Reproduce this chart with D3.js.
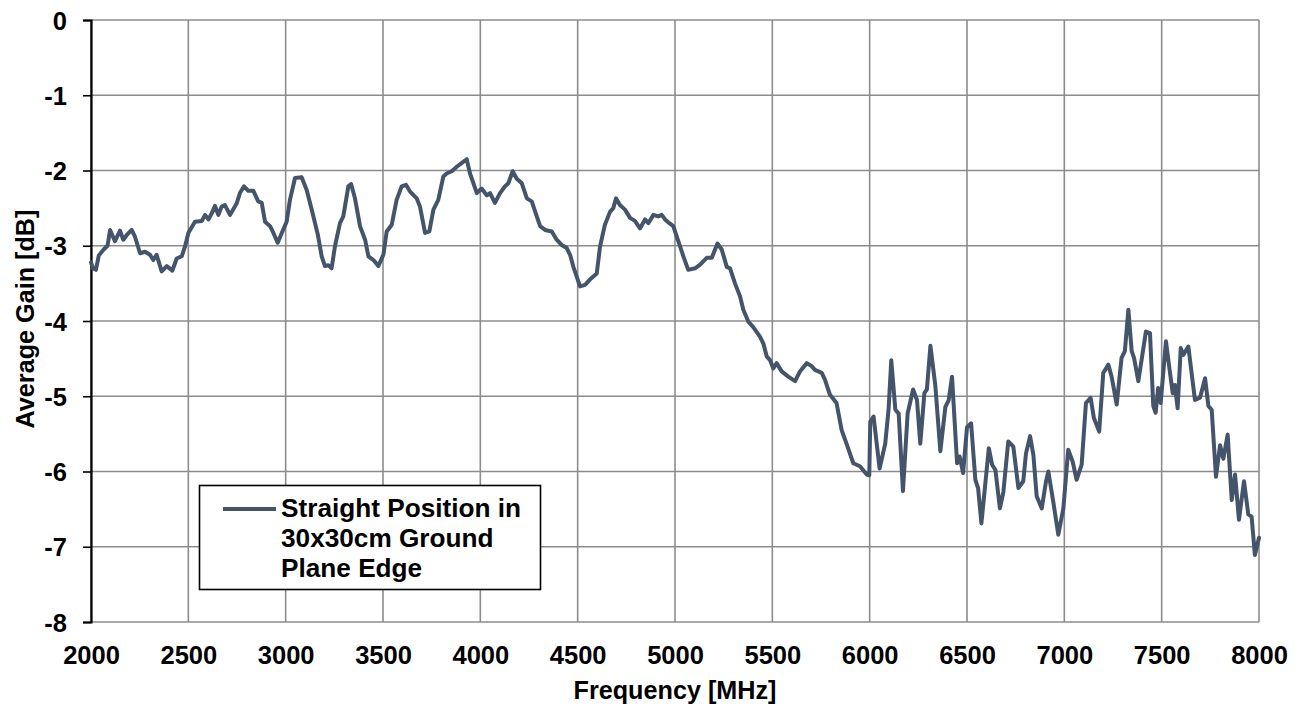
<!DOCTYPE html>
<html>
<head>
<meta charset="utf-8">
<script src="https://cdn.jsdelivr.net/npm/d3@7"></script>
<style>
  html, body { margin: 0; padding: 0; background: #fff; }
  svg { display: block; font-family: "Liberation Sans", Arial, sans-serif; font-weight: bold; }
</style>
</head>
<body>
<svg id="chart" width="1303" height="710"></svg>
<script>
const seriesName = ["Straight Position in", "30x30cm Ground", "Plane Edge"];
const xTickValues = [2000, 2500, 3000, 3500, 4000, 4500, 5000, 5500, 6000, 6500, 7000, 7500, 8000];
const yTickValues = [0, -1, -2, -3, -4, -5, -6, -7, -8];
const xTitle = "Frequency [MHz]";
const yTitle = "Average Gain [dB]";

const freq = [
 2000,2010,2025,2040,2065,2085,2098,2123,2149,2166,2183,2209,2226,2252,2277,2303,2320,2337,2363,2389,
 2418,2440,2466,2483,2500,2534,2569,2586,2603,2620,2637,2654,2671,2688,2714,2748,2765,2786,2808,2834,
 2859,2877,2894,2920,2937,2959,2980,3005,3022,3048,3082,3108,3134,3165,3185,3202,3219,3236,3253,3279,
 3296,3322,3336,3356,3382,3408,3425,3451,3476,3502,3519,3545,3570,3596,3618,3639,3673,3690,3716,3738,
 3759,3784,3810,3827,3853,3879,3905,3930,3947,3982,4007,4033,4050,4075,4101,4127,4144,4166,4187,4213,
 4239,4264,4290,4307,4333,4367,4392,4418,4444,4461,4478,4495,4512,4538,4563,4598,4615,4640,4666,4683,
 4697,4717,4743,4769,4794,4820,4846,4863,4889,4914,4932,4949,4971,4991,5017,5043,5068,5103,5129,5163,
 5189,5218,5240,5266,5283,5308,5334,5351,5377,5402,5437,5454,5471,5488,5505,5522,5548,5582,5617,5642,
 5677,5702,5719,5754,5770,5796,5830,5856,5881,5916,5950,5985,5998,6003,6020,6051,6080,6097,6111,6132,
 6149,6171,6195,6223,6243,6260,6281,6294,6312,6337,6363,6389,6406,6423,6449,6462,6480,6500,6521,6543,
 6557,6574,6612,6629,6646,6669,6687,6712,6738,6764,6789,6803,6824,6841,6858,6884,6906,6918,6943,6969,
 6995,7020,7043,7063,7089,7111,7135,7152,7179,7200,7226,7243,7269,7294,7311,7329,7346,7358,7380,7402,
 7419,7440,7457,7469,7482,7495,7522,7543,7557,7568,7582,7598,7611,7637,7671,7697,7723,7740,7757,7779,
 7800,7817,7839,7860,7877,7897,7923,7945,7962,7979,8000
];
const gain = [
 -3.22,-3.30,-3.32,-3.13,-3.05,-3.00,-2.79,-2.94,-2.80,-2.92,-2.86,-2.79,-2.88,-3.10,-3.08,-3.12,-3.19,-3.12,-3.34,-3.27,
 -3.33,-3.17,-3.14,-3.01,-2.83,-2.68,-2.67,-2.59,-2.65,-2.57,-2.47,-2.59,-2.48,-2.46,-2.59,-2.44,-2.30,-2.21,-2.27,-2.27,
 -2.41,-2.43,-2.68,-2.74,-2.83,-2.96,-2.83,-2.68,-2.39,-2.10,-2.09,-2.26,-2.52,-2.85,-3.14,-3.27,-3.26,-3.30,-3.01,-2.70,
 -2.61,-2.21,-2.18,-2.37,-2.74,-2.92,-3.14,-3.19,-3.27,-3.12,-2.81,-2.72,-2.39,-2.21,-2.19,-2.28,-2.37,-2.48,-2.83,-2.81,
 -2.52,-2.39,-2.08,-2.04,-2.01,-1.95,-1.90,-1.85,-2.04,-2.30,-2.24,-2.33,-2.30,-2.43,-2.30,-2.21,-2.17,-2.01,-2.11,-2.17,
 -2.37,-2.41,-2.61,-2.74,-2.79,-2.81,-2.92,-2.99,-3.03,-3.12,-3.28,-3.41,-3.54,-3.52,-3.45,-3.37,-3.01,-2.72,-2.55,-2.50,
 -2.37,-2.46,-2.52,-2.63,-2.67,-2.77,-2.65,-2.70,-2.59,-2.61,-2.59,-2.65,-2.70,-2.74,-2.94,-3.14,-3.32,-3.30,-3.25,-3.16,
 -3.16,-2.97,-3.05,-3.28,-3.30,-3.50,-3.67,-3.85,-4.01,-4.08,-4.21,-4.30,-4.47,-4.52,-4.63,-4.56,-4.67,-4.74,-4.80,-4.67,
 -4.56,-4.60,-4.65,-4.69,-4.78,-4.98,-5.09,-5.45,-5.63,-5.89,-5.93,-6.04,-6.05,-5.34,-5.27,-5.96,-5.63,-5.18,-4.52,-5.18,
 -5.23,-6.26,-5.23,-4.91,-5.05,-5.63,-4.96,-4.91,-4.33,-4.85,-5.73,-5.14,-5.05,-4.74,-5.89,-5.80,-6.02,-5.41,-5.36,-6.11,
 -6.22,-6.69,-5.69,-5.91,-5.98,-6.49,-6.27,-5.60,-5.67,-6.22,-6.13,-5.76,-5.53,-5.78,-6.33,-6.49,-6.13,-6.00,-6.40,-6.84,
 -6.49,-5.71,-5.87,-6.11,-5.91,-5.09,-5.02,-5.29,-5.47,-4.69,-4.58,-4.74,-5.11,-4.49,-4.40,-3.85,-4.40,-4.49,-4.80,-4.43,
 -4.14,-4.16,-5.13,-5.22,-4.89,-5.09,-4.27,-4.69,-4.96,-4.85,-5.16,-4.36,-4.45,-4.34,-5.05,-5.02,-4.76,-5.13,-5.18,-6.07,
 -5.65,-5.83,-5.51,-6.38,-6.04,-6.64,-6.13,-6.57,-6.60,-7.11,-6.88
];

const data = freq.map((f, i) => ({ f, g: gain[i] }));

const svg = d3.select("#chart");
const plotLeft = 91, plotRight = 1259, plotTop = 20, plotBottom = 622;
const x = d3.scaleLinear().domain([2000, 8000]).range([plotLeft, plotRight]);
const y = d3.scaleLinear().domain([-8, 0]).range([plotBottom, plotTop]);

const gridColor = "#8c8c8c";
const tickFont = 25.5;
const titleFont = 25.2;
const legendFont = 26.2;
const fam = "Liberation Sans, Arial, sans-serif";

// gridlines
svg.append("g").selectAll("line").data(yTickValues).join("line")
  .attr("x1", plotLeft).attr("x2", plotRight)
  .attr("y1", d => y(d)).attr("y2", d => y(d))
  .attr("stroke", gridColor).attr("stroke-width", 1.6);
svg.append("g").selectAll("line").data(xTickValues).join("line")
  .attr("x1", d => x(d)).attr("x2", d => x(d))
  .attr("y1", plotTop).attr("y2", plotBottom)
  .attr("stroke", gridColor).attr("stroke-width", 1.6);

// y axis
const yAxis = svg.append("g").attr("transform", `translate(${plotLeft},0)`)
  .call(d3.axisLeft(y).tickValues(yTickValues).tickSize(8).tickPadding(16).tickFormat(d => String(d)));
yAxis.select(".domain").attr("stroke", "#000").attr("stroke-width", 2.2);
yAxis.selectAll(".tick line").attr("stroke", "#000").attr("stroke-width", 1.6);
yAxis.selectAll(".tick text").attr("fill", "#000").attr("font-size", tickFont)
  .attr("font-family", fam).attr("font-weight", "bold").attr("dy", "0.36em");

// x axis (labels only)
const xAxis = svg.append("g").attr("transform", `translate(0,${plotBottom})`)
  .call(d3.axisBottom(x).tickValues(xTickValues).tickSize(0).tickFormat(d => String(d)));
xAxis.select(".domain").remove();
xAxis.selectAll(".tick text").attr("fill", "#000").attr("font-size", tickFont)
  .attr("font-family", fam).attr("font-weight", "bold")
  .attr("dy", null).attr("y", 41.5);

// axis titles
svg.append("text").attr("x", (plotLeft + plotRight) / 2).attr("y", 699)
  .attr("text-anchor", "middle").attr("font-size", titleFont)
  .attr("font-family", fam).attr("font-weight", "bold").text(xTitle);
svg.append("text").attr("transform", `translate(34,${(plotTop + plotBottom) / 2 - 2}) rotate(-90)`)
  .attr("text-anchor", "middle").attr("font-size", titleFont)
  .attr("font-family", fam).attr("font-weight", "bold").text(yTitle);

// series line
const lineColor = "#44546a";
svg.append("path").datum(data)
  .attr("fill", "none").attr("stroke", lineColor).attr("stroke-width", 4)
  .attr("stroke-linejoin", "round").attr("stroke-linecap", "round")
  .attr("d", d3.line().x(d => x(d.f)).y(d => y(d.g)));

// legend
const lg = svg.append("g");
lg.append("rect").attr("x", 199.5).attr("y", 485.5).attr("width", 341).attr("height", 104)
  .attr("fill", "#fff").attr("stroke", "#000").attr("stroke-width", 1.6);
lg.append("line").attr("x1", 223).attr("x2", 276).attr("y1", 509).attr("y2", 509)
  .attr("stroke", lineColor).attr("stroke-width", 4);
lg.selectAll("text").data(seriesName).join("text")
  .attr("x", 281).attr("y", (d, i) => 517 + i * 30)
  .attr("font-size", legendFont).attr("font-family", fam).attr("font-weight", "bold")
  .attr("fill", "#000").text(d => d);
</script>
</body>
</html>
